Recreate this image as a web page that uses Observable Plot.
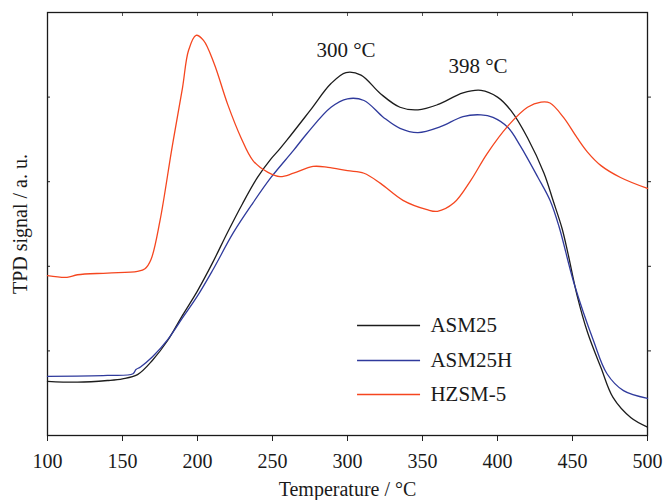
<!DOCTYPE html>
<html>
<head>
<meta charset="utf-8">
<script src="https://cdn.jsdelivr.net/npm/d3@7"></script>
<script src="https://cdn.jsdelivr.net/npm/@observablehq/plot@0.6"></script>
<style>
  html, body { margin: 0; padding: 0; background: #fff; }
  #chart svg { display: block; }
</style>
</head>
<body>
<div id="chart"></div>
<script>
// ---- Data ----
const seriesNames = ["ASM25", "ASM25H", "HZSM-5"];
const seriesColors = ["#1c1c1c", "#2f3a9c", "#f5461f"];

const asm25T = [100,120,140,150,160,170,180,190,200,210,220,230,240,249,254,260,275,289,299,309,322,335,347,360,377,389,400,409,420,431,437,443,447,453,460,469,477,489,500];
const asm25Y = [0.64,0.63,0.65,0.67,0.72,0.89,1.12,1.42,1.71,2.04,2.40,2.74,3.05,3.27,3.37,3.50,3.84,4.16,4.29,4.26,4.04,3.88,3.85,3.91,4.05,4.08,4.00,3.84,3.52,3.10,2.78,2.45,2.15,1.66,1.22,0.80,0.45,0.21,0.10];

const asm25hT = [100,140,157,159,162,170,180,190,200,210,224,237,249,264,273,289,300,311,324,335,347,362,377,389,397,407,415,427,435,441,451,464,473,484,500];
const asm25hY = [0.70,0.71,0.73,0.78,0.81,0.93,1.13,1.39,1.65,1.95,2.40,2.75,3.05,3.37,3.57,3.88,3.98,3.96,3.76,3.63,3.58,3.65,3.77,3.79,3.76,3.64,3.43,3.05,2.78,2.47,1.80,1.12,0.73,0.53,0.44];

const hzsmT = [100,113,120,140,160,165,169,175,183,190,194,199,204,211,220,229,237,247,255,264,277,287,300,311,322,337,353,360,371,382,393,407,420,429,435,444,453,460,469,482,500];
const hzsmY = [1.89,1.87,1.90,1.92,1.94,1.97,2.08,2.54,3.40,4.11,4.55,4.73,4.67,4.40,3.92,3.52,3.25,3.11,3.06,3.10,3.18,3.17,3.13,3.10,2.98,2.78,2.67,2.65,2.75,3.01,3.33,3.66,3.88,3.94,3.93,3.76,3.52,3.35,3.19,3.05,2.92];

const xTicks = [100,150,200,250,300,350,400,450,500];
const yTicks = [1,2,3,4];
const xLabel = "Temperature / °C";
const yLabel = "TPD signal / a. u.";
const peakLabels = ["300 °C", "398 °C"];
const peakT = [299, 387];
const peakY = [4.55, 4.37];

// legend placement (data units)
const legendX1 = 306.7, legendX2 = 348.7, legendTextX = 355.3;
const legendY = [1.30, 0.887, 0.485];

// ---- Build tables ----
const rows = [];
[[asm25T, asm25Y], [asm25hT, asm25hY], [hzsmT, hzsmY]].forEach(([ts, ys], i) => {
  ts.forEach((t, j) => rows.push({series: seriesNames[i], T: t, v: ys[j]}));
});
const legendRows = seriesNames.map((s, i) => ({series: s, y: legendY[i]}));
const peaks = peakLabels.map((l, i) => ({label: l, T: peakT[i], y: peakY[i]}));

const font = "'Liberation Serif', 'Times New Roman', serif";

const chart = Plot.plot({
  width: 663,
  height: 500,
  marginLeft: 47,
  marginRight: 16,
  marginTop: 12,
  marginBottom: 65,
  style: {fontFamily: font, color: "#1a1a1a", background: "#fff"},
  x: {domain: [100, 500]},
  y: {domain: [0, 5]},
  color: {domain: seriesNames, range: seriesColors},
  marks: [
    Plot.axisX({ticks: xTicks, tickSize: 6, tickPadding: 12, fontSize: 20, label: null, stroke: "#222"}),
    Plot.axisX({anchor: "top", ticks: xTicks, tickSize: 3, dy: 3, tickFormat: () => "", label: null, stroke: "#555"}),
    Plot.axisY({ticks: yTicks, tickSize: 3, dx: 3, tickFormat: () => "", label: null, stroke: "#222"}),
    Plot.axisY({anchor: "right", ticks: yTicks, tickSize: 3, tickFormat: () => "", label: null, stroke: "#222"}),
    Plot.frame({stroke: "#1a1a1a", strokeWidth: 1.3}),
    Plot.line(rows, {x: "T", y: "v", z: "series", stroke: "series", strokeWidth: 1.3, curve: "catmull-rom"}),
    Plot.text(peaks, {x: "T", y: "y", text: "label", fontSize: 21, fill: "#1a1a1a"}),
    Plot.ruleY(legendRows, {y: "y", x1: legendX1, x2: legendX2, stroke: "series", strokeWidth: 1.4}),
    Plot.text(legendRows, {x: legendTextX, y: "y", text: "series", textAnchor: "start", fontSize: 21, fill: "#1a1a1a"}),
    Plot.text([xLabel], {frameAnchor: "bottom", textAnchor: "middle", lineAnchor: "middle", dy: 54, fontSize: 20, fill: "#1a1a1a"}),
    Plot.text([yLabel], {frameAnchor: "left", textAnchor: "middle", lineAnchor: "middle", dx: -27, rotate: -90, fontSize: 20, fill: "#1a1a1a"})
  ]
});
document.getElementById("chart").appendChild(chart);
</script>
</body>
</html>
